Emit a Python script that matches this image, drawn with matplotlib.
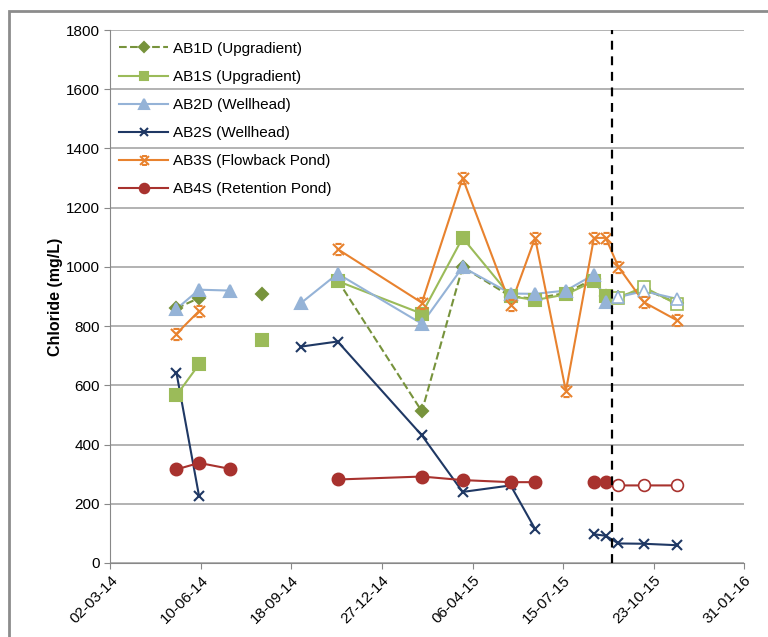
import matplotlib
matplotlib.use('Agg')
import matplotlib.pyplot as plt
import matplotlib.dates as mdates
import numpy as np
import pandas as pd
from matplotlib.path import Path
from matplotlib.patches import Rectangle

plt.rcParams['font.family'] = ['Liberation Sans', 'DejaVu Sans']

# sampling dates (common to all wells), NaN = not sampled
dates = pd.to_datetime(['2014-05-14', '2014-06-08', '2014-07-12', '2014-08-16',
                        '2014-09-29', '2014-11-08', '2015-02-09', '2015-03-26',
                        '2015-05-18', '2015-06-14', '2015-07-18', '2015-08-18',
                        '2015-08-31', '2015-09-14', '2015-10-12', '2015-11-18'])
nan = np.nan
ab1d = [860, 895, nan, 910, nan, 955, 512, 1000, 900, 893, 912, 960, 903, 898, 925, 878]
ab1s = [566, 671, nan, 754, nan, 952, 842, 1098, 901, 888, 907, 952, 901, 896, 932, 873]
ab2d = [858, 923, 920, nan, 879, 977, 808, 999, 910, 909, 920, 974, 881, 898, 918, 892]
ab2s = [643, 226, nan, nan, 731, 748, 431, 240, 262, 115, nan, 97, 92, 66, 65, 60]
ab3s = [774, 851, nan, nan, nan, 1060, 879, 1300, 871, 1098, 581, 1098, 1098, 1000, 881, 819]
ab4s = [316, 338, 318, nan, nan, 282, 292, 280, 273, 273, nan, 273, 273, 262, 262, 262]

labels = ['AB1D (Upgradient)', 'AB1S (Upgradient)', 'AB2D (Wellhead)',
          'AB2S (Wellhead)', 'AB3S (Flowback Pond)', 'AB4S (Retention Pond)']

cutoff = pd.Timestamp('2015-09-07')
x_start = pd.Timestamp('2014-03-02')
x_ticks = [x_start + pd.Timedelta(days=100 * i) for i in range(8)]
y_ticks = np.arange(0, 1801, 200)

# excel style "star" marker
star = Path([(-1, -1), (1, 1), (-1, 1), (1, -1), (-0.55, 1), (0.55, 1), (-0.55, -1), (0.55, -1)],
            [Path.MOVETO, Path.LINETO] * 4)

styles = [
    dict(color='#77933C', marker='D', ms=6, ls='--', hollow=True),
    dict(color='#9BBB59', marker='s', ms=8, ls='-', hollow=True),
    dict(color='#95B3D7', marker='^', ms=8.5, ls='-', hollow=True),
    dict(color='#1F3864', marker='x', ms=7, ls='-', hollow=False),
    dict(color='#E8822E', marker=star, ms=8, ls='-', hollow=False),
    dict(color='#A8322E', marker='o', ms=8.5, ls='-', hollow=True),
]
series = [ab1d, ab1s, ab2d, ab2s, ab3s, ab4s]

fig = plt.figure(figsize=(7.68, 6.37), dpi=100)
ax = fig.add_axes([110.3 / 768, 1 - 563 / 637, 634 / 768, 533 / 637])

pre = dates < cutoff
post = ~pre
for vals, st, lab in zip(series, styles, labels):
    v = np.array(vals, dtype=float)
    ax.plot(dates, v, color=st['color'], ls=st['ls'], lw=1.5, zorder=3)
    ax.plot(dates[pre], v[pre], ls='none', marker=st['marker'], ms=st['ms'],
            color=st['color'], mew=1.5, zorder=4)
    if st['hollow']:
        ax.plot(dates[post], v[post], ls='none', marker=st['marker'], ms=st['ms'],
                mfc='white', mec=st['color'], mew=1.2, zorder=4)
    else:
        ax.plot(dates[post], v[post], ls='none', marker=st['marker'], ms=st['ms'],
                color=st['color'], mew=1.5, zorder=4)
    # legend proxy
    ax.plot([], [], color=st['color'], ls=st['ls'], lw=1.5, marker=st['marker'],
            ms=st['ms'], mew=1.5, label=lab)

ax.axvline(cutoff, color='black', ls=(0, (4, 3)), lw=1.6, zorder=5)

ax.set_xlim(x_ticks[0], x_ticks[-1])
ax.set_ylim(0, 1800)
ax.set_xticks(x_ticks)
ax.xaxis.set_major_formatter(mdates.DateFormatter('%d-%m-%y'))
ax.set_yticks(y_ticks)
plt.setp(ax.get_xticklabels(), rotation=45, ha='right', rotation_mode='anchor')
ax.tick_params(axis='both', labelsize=11, color='#888888', length=4, labelcolor='black')
ax.yaxis.grid(True, color='#A6A6A6', lw=1.2)
ax.set_axisbelow(True)
for side in ['top', 'right']:
    ax.spines[side].set_visible(False)
for side in ['left', 'bottom']:
    ax.spines[side].set_color('#888888')
ax.set_ylabel('Chloride (mg/L)', fontsize=11.5, fontweight='bold', labelpad=2)

ax.legend(loc='upper left', bbox_to_anchor=(0.0, 0.995), frameon=False, fontsize=11,
          handlelength=3.2, handletextpad=0.3, labelspacing=0.92, numpoints=1,
          borderaxespad=0.2, markerscale=0.8)

fig.patches.append(Rectangle((9 / 768, -0.1), 2, 1.1 - 11 / 637, transform=fig.transFigure,
                             fill=False, edgecolor='#8C8C8C', lw=2))

fig.savefig('out.png', dpi=100)
